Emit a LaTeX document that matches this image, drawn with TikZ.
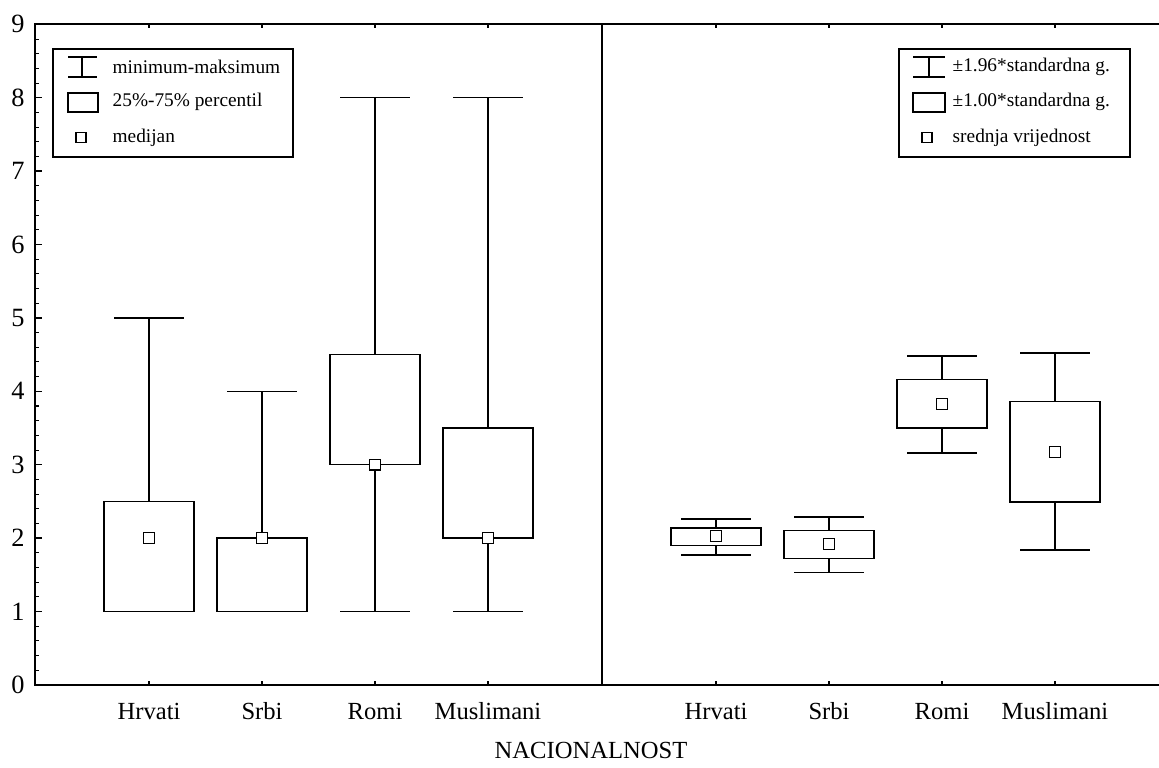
\documentclass[tikz,border=0pt]{standalone}
\usepackage{fontspec}
\setmainfont{Liberation Serif}
\usepackage{tikz}
\usetikzlibrary{positioning}

\tikzset{
  frameline/.style={line width=1.1pt},
  medbox/.style={draw, fill=white, line width=0.8pt, minimum size=0.22cm, inner sep=0pt},
  ylab/.style={font=\fontsize{15}{17}\selectfont},
  catlab/.style={anchor=base, font=\fontsize{14}{16}\selectfont},
  legtext/.style={anchor=west, inner sep=0pt, font=\fontsize{11}{13}\selectfont}
}

\begin{document}
\begin{tikzpicture}[x=0.02cm, y=1.468cm, line width=0.8pt]
  \useasboundingbox (0,-1.1308) rectangle (1159,9.3324);

  % Frame and panel divider
  \draw[frameline] (1159,9) -- (35,9) -- (35,0) -- (1159,0);
  \draw[frameline] (602,0) -- (602,9);

  % Y axis ticks and labels
  \foreach \v in {0.2,0.4,...,8.9} \draw[line width=0.6pt] (35,\v) -- (39,\v);
  \foreach \v in {1,...,8} \draw (35,\v) -- (42,\v);
  \foreach \v in {0,...,9} \node[ylab] (y\v) at (18,\v) {\v};

  % Category ticks and labels
  \foreach \c/\t [count=\i] in {149/Hrvati,262/Srbi,375/Romi,488/Muslimani,716/Hrvati,829/Srbi,942/Romi,1055/Muslimani} {
    \draw[line width=0.6pt] (\c,0) -- (\c,0.05) (\c,9) -- (\c,8.95);
    \node[catlab] (cat\i) at (\c,-0.477) {\t};
  }
  \node[catlab] (xtitle) at (591,-1.0) {NACIONALNOST};

  % Left panel: Hrvati
  \draw (104,1) rectangle (194,2.5);
  \draw (149,2.5) -- (149,5) (114,5) -- (184,5);
  \node[medbox] (medHr) at (149,2) {};
  % Left panel: Srbi
  \draw (217,1) rectangle (307,2);
  \draw (262,2) -- (262,4) (227,4) -- (297,4);
  \node[medbox] (medSr) at (262,2) {};
  % Left panel: Romi
  \draw (330,3) rectangle (420,4.5);
  \draw (375,4.5) -- (375,8) (340,8) -- (410,8);
  \draw (375,3) -- (375,1) (340,1) -- (410,1);
  \node[medbox] (medRo) at (375,3) {};
  % Left panel: Muslimani
  \draw (443,2) rectangle (533,3.5);
  \draw (488,3.5) -- (488,8) (453,8) -- (523,8);
  \draw (488,2) -- (488,1) (453,1) -- (523,1);
  \node[medbox] (medMu) at (488,2) {};

  % Right panel: Hrvati
  \draw (671,1.90) rectangle (761,2.14);
  \draw (716,2.14) -- (716,2.26) (681,2.26) -- (751,2.26);
  \draw (716,1.90) -- (716,1.77) (681,1.77) -- (751,1.77);
  \node[medbox] (meanHr) at (716,2.03) {};
  % Right panel: Srbi
  \draw (784,1.72) rectangle (874,2.10);
  \draw (829,2.10) -- (829,2.29) (794,2.29) -- (864,2.29);
  \draw (829,1.72) -- (829,1.53) (794,1.53) -- (864,1.53);
  \node[medbox] (meanSr) at (829,1.92) {};
  % Right panel: Romi
  \draw (897,3.50) rectangle (987,4.16);
  \draw (942,4.16) -- (942,4.48) (907,4.48) -- (977,4.48);
  \draw (942,3.50) -- (942,3.16) (907,3.16) -- (977,3.16);
  \node[medbox] (meanRo) at (942,3.83) {};
  % Right panel: Muslimani
  \draw (1010,2.49) rectangle (1100,3.86);
  \draw (1055,3.86) -- (1055,4.52) (1020,4.52) -- (1090,4.52);
  \draw (1055,2.49) -- (1055,1.84) (1020,1.84) -- (1090,1.84);
  \node[medbox] (meanMu) at (1055,3.17) {};

  % Legend left
  \draw[frameline] (53,8.665) rectangle (293,7.193);
  \draw (82,8.556) -- (82,8.283) (68,8.556) -- (97,8.556) (68,8.283) -- (97,8.283);
  \node[legtext] (legMinMax) at (112,8.42) {minimum-maksimum};
  \draw (68,8.065) rectangle (98,7.807);
  \node[legtext] (legPerc) at (112,7.94) {25\%-75\% percentil};
  \node[medbox, minimum size=0.2cm] (legMedSq) at (81,7.46) {};
  \node[legtext] (legMed) at (112,7.46) {medijan};

  % Legend right
  \draw[frameline] (899,8.665) rectangle (1130,7.193);
  \draw (929,8.556) -- (929,8.283) (913,8.556) -- (945,8.556) (913,8.283) -- (945,8.283);
  \node[legtext] (legSd2) at (952,8.42) {±1.96*standardna g.};
  \draw (913,8.065) rectangle (945,7.807);
  \node[legtext] (legSd1) at (952,7.94) {±1.00*standardna g.};
  \node[medbox, minimum size=0.2cm] (legMeanSq) at (927,7.46) {};
  \node[legtext] (legMean) at (952,7.46) {srednja vrijednost};
\end{tikzpicture}
\end{document}
